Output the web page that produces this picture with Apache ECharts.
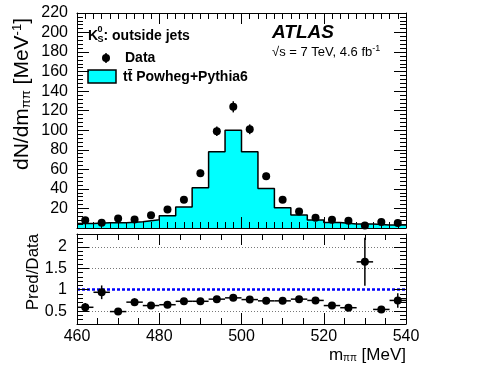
<!DOCTYPE html>
<html>
<head>
<meta charset="utf-8">
<script src="https://cdn.jsdelivr.net/npm/echarts@6/dist/echarts.min.js"></script>
<style>
  html, body { margin: 0; padding: 0; background: #fff; }
  #chart { width: 477px; height: 371px; }
</style>
</head>
<body>
<div id="chart"></div>
<script>
// K0S mass, outside jets: data vs ttbar Powheg+Pythia6
var binEdges = [460, 464, 468, 472, 476, 480, 484, 488, 492, 496, 500, 504, 508, 512, 516, 520, 524, 528, 532, 536, 540];
var binCenters = [462, 466, 470, 474, 478, 482, 486, 490, 494, 498, 502, 506, 510, 514, 518, 522, 526, 530, 534, 538];
var binHalfWidth = 2;
var predValues = [4.7, 5.4, 5.4, 6.5, 8.5, 12.6, 21.4, 41.2, 78, 100, 78, 40.5, 20.7, 13.2, 8.1, 5.7, 4.0, 4.0, 3.0, 3.0];
var dataValues = [8, 5.5, 9.8, 8.8, 13, 19, 29, 56, 99, 124, 101, 53, 29, 17, 10.5, 8.5, 7.5, 2.5, 6.2, 5];
var dataErrors = [1.4, 1.2, 1.6, 1.5, 1.8, 2.2, 2.7, 3.7, 4.8, 5.7, 5, 3.6, 2.7, 2.1, 1.6, 1.5, 1.4, 0.8, 1.2, 1.1];
var ratioValues = [0.59, 0.94, 0.49, 0.71, 0.63, 0.65, 0.73, 0.73, 0.78, 0.81, 0.77, 0.74, 0.74, 0.78, 0.75, 0.63, 0.58, 1.65, 0.54, 0.75];
var ratioErrors = [0.1, 0.16, 0.06, 0.09, 0.06, 0.05, 0.04, 0.03, 0.02, 0.02, 0.02, 0.03, 0.04, 0.05, 0.08, 0.06, 0.06, 0.56, 0.05, 0.17];
var ratioGuides = [0.5, 1.5, 2];
var ratioUnity = 1;

var FONT = 'Liberation Sans';
var myChart = echarts.init(document.getElementById('chart'));

// histogram as step line: each edge carries the value of the bin to its right
var histLine = binEdges.map(function (e, i) {
    return [e, predValues[Math.min(i, predValues.length - 1)]];
});
var dataPts = binCenters.map(function (x, i) { return [x, dataValues[i]]; });
var dataErr = binCenters.map(function (x, i) { return [x, dataValues[i] - dataErrors[i], dataValues[i] + dataErrors[i]]; });
var ratioPts = binCenters.map(function (x, i) { return [x, ratioValues[i]]; });
var ratioErr = binCenters.map(function (x, i) {
    return [x, ratioValues[i], ratioValues[i] - ratioErrors[i], ratioValues[i] + ratioErrors[i]];
});

function xAx(grid, pos, labels, minorSplit) {
    return {
        type: 'value', gridIndex: grid, position: pos, min: 460, max: 540, interval: 20, z: 10,
        axisLine: { show: true, onZero: false, lineStyle: { color: '#000', width: 1 } },
        axisTick: { show: true, inside: true, length: 11, lineStyle: { color: '#000' } },
        minorTick: { show: true, splitNumber: minorSplit, length: 6, lineStyle: { color: '#000' } },
        axisLabel: { show: labels, color: '#000', fontFamily: FONT, fontSize: 16, margin: 5 },
        splitLine: { show: false }
    };
}

var yAxes = [
    // top panel
    {
        type: 'value', gridIndex: 0, position: 'left', min: 0, max: 220, interval: 20, z: 10,
        axisLine: { show: true, onZero: false, lineStyle: { color: '#000' } },
        axisTick: { inside: true, length: 12, lineStyle: { color: '#000' } },
        minorTick: { show: true, splitNumber: 5, length: 6, lineStyle: { color: '#000' } },
        axisLabel: { color: '#000', fontFamily: FONT, fontSize: 16, margin: 9,
            formatter: function (v) { return v === 0 ? '' : v; } },
        splitLine: { show: false }
    },
    {
        type: 'value', gridIndex: 0, position: 'right', min: 0, max: 220, interval: 20, z: 10,
        axisLine: { show: true, onZero: false, lineStyle: { color: '#000' } },
        axisTick: { inside: true, length: 12, lineStyle: { color: '#000' } },
        minorTick: { show: true, splitNumber: 5, length: 6, lineStyle: { color: '#000' } },
        axisLabel: { show: false }, splitLine: { show: false }
    },
    // ratio panel: fine ticks
    {
        type: 'value', gridIndex: 1, position: 'left', min: 0.2, max: 2.3, interval: 0.1, z: 10,
        axisLine: { show: true, onZero: false, lineStyle: { color: '#000' } },
        axisTick: { inside: true, length: 6, lineStyle: { color: '#000' } },
        axisLabel: { show: false }, splitLine: { show: false }
    },
    {
        type: 'value', gridIndex: 1, position: 'right', min: 0.2, max: 2.3, interval: 0.1, z: 10,
        axisLine: { show: true, onZero: false, lineStyle: { color: '#000' } },
        axisTick: { inside: true, length: 6, lineStyle: { color: '#000' } },
        axisLabel: { show: false }, splitLine: { show: false }
    },
    // ratio panel: major ticks + labels
    {
        type: 'value', gridIndex: 1, position: 'left', min: 0.2, max: 2.3, splitNumber: 4, z: 10,
        axisLine: { show: false },
        axisTick: { inside: true, length: 12, lineStyle: { color: '#000' } },
        axisLabel: { color: '#000', fontFamily: FONT, fontSize: 16, margin: 10, showMinLabel: false, showMaxLabel: false,
            formatter: function (v) {
                return Math.abs(v * 2 - Math.round(v * 2)) < 1e-6 ? String(Math.round(v * 2) / 2) : '';
            } },
        splitLine: { show: false }
    },
    {
        type: 'value', gridIndex: 1, position: 'right', min: 0.2, max: 2.3, splitNumber: 4, z: 10,
        axisLine: { show: false },
        axisTick: { inside: true, length: 12, lineStyle: { color: '#000' } },
        axisLabel: { show: false }, splitLine: { show: false }
    }
];

var option = {
    animation: false,
    backgroundColor: '#fff',
    grid: [
        { left: 77, top: 13, width: 329, height: 215, show: false },
        { left: 77, top: 234, width: 329, height: 90, show: false }
    ],
    xAxis: [
        xAx(0, 'bottom', false, 10),
        xAx(0, 'top', false, 10),
        xAx(1, 'bottom', true, 4),
        xAx(1, 'top', false, 4)
    ],
    yAxis: yAxes,
    series: [
        {
            name: 'tt Powheg+Pythia6', type: 'line', xAxisIndex: 0, yAxisIndex: 0,
            step: 'end', data: histLine, showSymbol: false, symbol: 'none', z: 1,
            lineStyle: { color: '#000', width: 1.5 },
            areaStyle: { color: '#00ffff', opacity: 1 }
        },
        {
            type: 'custom', xAxisIndex: 0, yAxisIndex: 0, data: dataErr, z: 3,
            encode: { x: 0, y: [1, 2] },
            renderItem: function (params, api) {
                var a = api.coord([api.value(0), api.value(1)]);
                var b = api.coord([api.value(0), api.value(2)]);
                return { type: 'line', shape: { x1: a[0], y1: a[1], x2: b[0], y2: b[1] },
                    style: { stroke: '#000', lineWidth: 1.5 } };
            }
        },
        {
            name: 'Data', type: 'scatter', xAxisIndex: 0, yAxisIndex: 0, data: dataPts, z: 4,
            symbol: 'circle', symbolSize: 8, itemStyle: { color: '#000', opacity: 1 }
        },
        {
            type: 'custom', xAxisIndex: 2, yAxisIndex: 2, data: ratioErr, z: 3,
            encode: { x: 0, y: [1, 2, 3] },
            renderItem: function (params, api) {
                var x = api.value(0);
                var lo = api.coord([x, api.value(2)]);
                var hi = api.coord([x, api.value(3)]);
                var l = api.coord([x - binHalfWidth, api.value(1)]);
                var r = api.coord([x + binHalfWidth, api.value(1)]);
                var st = { stroke: '#000', lineWidth: 1.5 };
                return { type: 'group', children: [
                    { type: 'line', shape: { x1: lo[0], y1: lo[1], x2: hi[0], y2: hi[1] }, style: st },
                    { type: 'line', shape: { x1: l[0], y1: l[1], x2: r[0], y2: r[1] }, style: st }
                ] };
            },
            markLine: {
                silent: true, symbol: 'none', label: { show: false }, z: 1,
                data: ratioGuides.map(function (v) {
                    return { yAxis: v, lineStyle: { color: '#777', type: [1, 2], width: 1 } };
                }).concat([{ yAxis: ratioUnity, lineStyle: { color: '#0000ff', type: [3, 2], width: 2.5 } }])
            }
        },
        {
            type: 'scatter', xAxisIndex: 2, yAxisIndex: 2, data: ratioPts, z: 4,
            symbol: 'circle', symbolSize: 8, itemStyle: { color: '#000', opacity: 1 }
        }
    ],
    graphic: [
        // y title
        { type: 'text', x: 22, y: 94, rotation: Math.PI / 2,
          style: { text: 'dN/dm{sub|ππ} [MeV{sup|-1}]', align: 'center', verticalAlign: 'middle',
            font: '21px ' + FONT, fill: '#000',
            rich: { sub: { fontSize: 13, fontFamily: FONT, padding: [9, 0, 0, 0] },
                    sup: { fontSize: 13, fontFamily: FONT, padding: [0, 0, 9, 0] } } } },
        { type: 'text', x: 33, y: 272, rotation: Math.PI / 2,
          style: { text: 'Pred/Data', align: 'center', verticalAlign: 'middle', font: '17px ' + FONT, fill: '#000' } },
        // x title
        { type: 'text', x: 406, y: 355,
          style: { text: 'm{sub|ππ} [MeV]', align: 'right', verticalAlign: 'middle', font: '17px ' + FONT, fill: '#000',
            rich: { sub: { fontSize: 10, fontFamily: FONT, padding: [7, 0, 0, 0] } } } },
        // legend
        { type: 'text', x: 88, y: 36, style: { text: 'K', verticalAlign: 'middle', font: 'bold 14px ' + FONT, fill: '#000' } },
        { type: 'text', x: 97.5, y: 30, style: { text: '0', verticalAlign: 'middle', font: 'bold 9px ' + FONT, fill: '#000' } },
        { type: 'text', x: 97.5, y: 40, style: { text: 'S', verticalAlign: 'middle', font: 'bold 9px ' + FONT, fill: '#000' } },
        { type: 'text', x: 103.5, y: 36, style: { text: ': outside jets', verticalAlign: 'middle', font: 'bold 14px ' + FONT, fill: '#000' } },
        { type: 'line', shape: { x1: 106, y1: 53, x2: 106, y2: 63 }, style: { stroke: '#000', lineWidth: 1.5 } },
        { type: 'circle', shape: { cx: 106, cy: 58, r: 4 }, style: { fill: '#000' } },
        { type: 'text', x: 125, y: 58, style: { text: 'Data', verticalAlign: 'middle', font: 'bold 14px ' + FONT, fill: '#000' } },
        { type: 'rect', shape: { x: 88, y: 70, width: 28, height: 13 }, style: { fill: '#00ffff', stroke: '#000', lineWidth: 1.5 } },
        { type: 'text', x: 123, y: 77, style: { text: 'tt\u0304 Powheg+Pythia6', verticalAlign: 'middle', font: 'bold 14px ' + FONT, fill: '#000' } },
        // ATLAS label
        { type: 'text', x: 272, y: 33, style: { text: 'ATLAS', verticalAlign: 'middle', font: 'italic bold 19px ' + FONT, fill: '#000' } },
        { type: 'text', x: 272, y: 52,
          style: { text: '√s = 7 TeV, 4.6 fb{sup|-1}', verticalAlign: 'middle', font: '13px ' + FONT, fill: '#000',
            rich: { sup: { fontSize: 9, fontFamily: FONT, padding: [0, 0, 7, 0] } } } }
    ]
};
myChart.setOption(option);
window.addEventListener('resize', function () {
    myChart.resize();
});
</script>
</body>
</html>
